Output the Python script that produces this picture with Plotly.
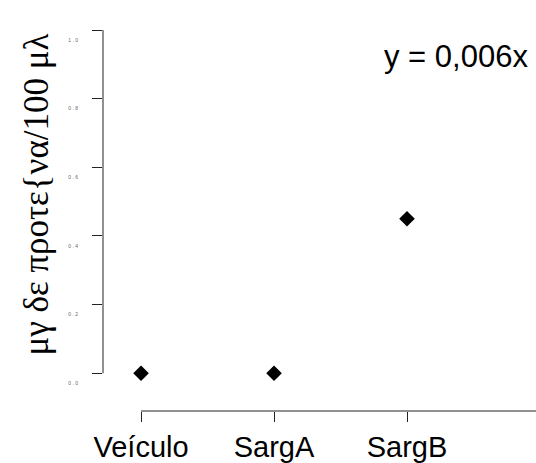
import plotly.graph_objects as go

categories = ["Veículo", "SargA", "SargB"]
values = [0.0, 0.0, 0.45]
y_tick_vals = [0.0, 0.2, 0.4, 0.6, 0.8, 1.0]
y_tick_text = ["0 . 0", "0 . 2", "0 . 4", "0 . 6", "0 . 8", "1 . 0"]
y_title = "μγ δε προτε{να/100 μλ"
equation = "y = 0,006x"

x_idx = list(range(len(categories)))
x_range = [-0.286, 2.97]
y_range = [-0.110, 1.0]
x_line_start = (x_idx[0] - x_range[0]) / (x_range[1] - x_range[0])

fig = go.Figure()
fig.add_trace(go.Scatter(
    x=x_idx, y=values, mode="markers",
    marker=dict(symbol="diamond", size=12, color="black"),
    showlegend=False, cliponaxis=False,
))

sans = "Liberation Sans, Arial, sans-serif"
serif = "Liberation Serif, Times New Roman, serif"

fig.update_layout(
    width=536, height=463,
    margin=dict(l=103, r=0, t=30, b=50),
    plot_bgcolor="white", paper_bgcolor="white",
    xaxis=dict(
        range=x_range, tickmode="array", tickvals=x_idx, ticktext=categories,
        ticks="outside", ticklen=10, tickcolor="#222", tickwidth=1,
        showline=False, showgrid=False, zeroline=False,
        tickfont=dict(family=sans, size=29, color="black"),
    ),
    yaxis=dict(
        range=y_range, tickmode="array", tickvals=y_tick_vals, ticktext=y_tick_text,
        ticks="outside", ticklen=10, tickcolor="#222", tickwidth=1,
        showline=False, showgrid=False, zeroline=False,
        tickfont=dict(family=sans, size=5, color="#666"),
        ticklabelstandoff=13, ticklabelshift=10,
    ),
    shapes=[
        dict(type="line", xref="paper", yref="y", x0=0, x1=0,
             y0=y_tick_vals[0], y1=y_tick_vals[-1],
             line=dict(color="#222", width=1)),
        dict(type="line", xref="paper", yref="paper", x0=x_line_start, x1=1.0, y0=0, y1=0,
             line=dict(color="#222", width=1)),
    ],
    annotations=[
        dict(text=y_title, textangle=-90, xref="paper", yref="y",
             x=-0.153, y=0.52, xanchor="center", yanchor="middle", showarrow=False,
             font=dict(family=serif, size=35, color="black")),
        dict(text=equation, xref="paper", yref="paper", x=0.815, y=0.93,
             xanchor="center", yanchor="middle", showarrow=False,
             font=dict(family=sans, size=31, color="black")),
    ],
)

fig.write_html(
    "out.html",
    post_script="document.body.style.margin='0';document.body.style.overflow='hidden';",
)
